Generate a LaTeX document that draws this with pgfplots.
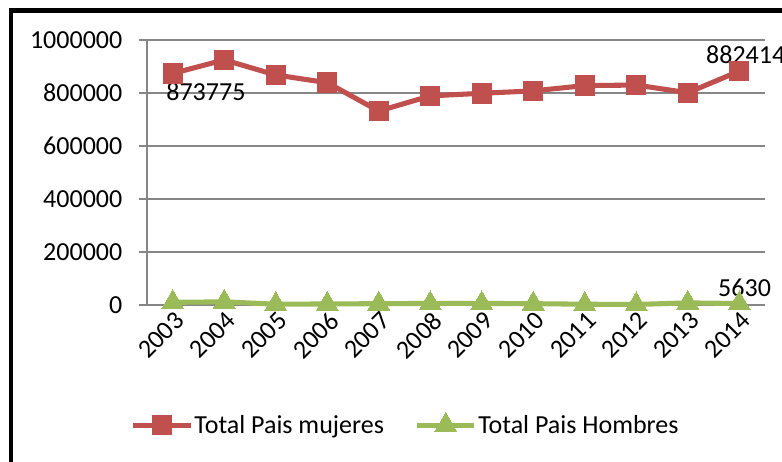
\documentclass[border=0pt]{standalone}
\usepackage{fontspec}
\setmainfont{Carlito}
\usepackage{pgfplots}
\pgfplotsset{compat=1.18}

\definecolor{exred}{HTML}{C0504D}
\definecolor{exgreen}{HTML}{9BBB59}
\definecolor{exgrid}{HTML}{868686}

\begin{document}
\begin{tikzpicture}[x=0.75pt,y=-0.75pt]
\useasboundingbox (0,0) rectangle (782,461);
\draw[line width=3.5pt] (11,10.5) rectangle (900,600);
\begin{axis}[
    at={(110.25pt,-228.75pt)}, anchor=south west,
    scale only axis,
    width=463.5pt, height=198.75pt,
    xmin=-0.5, xmax=11.5,
    ymin=0, ymax=1000000,
    ytick={0,200000,400000,600000,800000,1000000},
    xtick={0,...,11},
    xticklabels={2003,2004,2005,2006,2007,2008,2009,2010,2011,2012,2013,2014},
    minor xtick={-0.5,0.5,...,11.5},
    xtick style={draw=none},
    minor tick length=6pt,
    major tick length=6pt,
    tick align=outside,
    tick style={exgrid, line width=0.9pt},
    axis x line*=bottom, axis y line*=left,
    axis line style={exgrid, line width=0.9pt, -},
    ymajorgrids, grid style={exgrid, line width=0.9pt},
    scaled y ticks=false,
    yticklabel style={/pgf/number format/fixed, /pgf/number format/1000 sep={}, xshift=-9pt},
    /pgf/number format/assume math mode=true,
    ticklabel style={font=\fontsize{19.5}{21}\selectfont},
    xticklabel style={rotate=45, anchor=north east, inner sep=1pt, xshift=3pt, yshift=2pt},
    legend columns=2,
    legend style={at={(0.418,-0.453)}, anchor=center, draw=none, fill=none,
        font=\fontsize{19.5}{21}\selectfont,
        /tikz/every odd column/.append style={column sep=0pt},
        /tikz/every even column/.append style={column sep=22pt},
        nodes={inner xsep=1pt}},
    legend image code/.code={\draw[mark repeat=2,mark phase=2] plot coordinates {(0pt,0pt)(21.5pt,0pt)(43pt,0pt)};},
    clip=false,
]
\addplot[exred, line width=3.8pt, mark=square*, mark size=7.3pt, mark options={solid, line width=0pt}]
    coordinates {(0,873775) (1,925000) (2,868000) (3,839000) (4,732000) (5,789000)
                 (6,799000) (7,808000) (8,828000) (9,830000) (10,801000) (11,882414)};
\addlegendentry{Total Pais mujeres}
\addplot[exgreen, line width=3.8pt, mark=triangle*, mark size=9.5pt, mark options={solid, line width=0pt}]
    coordinates {(0,10000) (1,12000) (2,3000) (3,4000) (4,5000) (5,6000)
                 (6,6000) (7,5000) (8,3000) (9,2000) (10,8000) (11,5630)};
\addlegendentry{Total Pais Hombres}
\node[anchor=north west, font=\fontsize{19.5}{21}\selectfont, inner sep=0pt] at (axis cs:0,873775) [xshift=-5pt, yshift=-7pt] {873775};
\node[anchor=west, font=\fontsize{19.5}{21}\selectfont, inner sep=0pt] at (axis cs:11,882414) [xshift=-25pt, yshift=12.5pt] {882414};
\node[anchor=south, font=\fontsize{19.5}{21}\selectfont, inner sep=0pt] at (axis cs:11,5630) [xshift=4pt, yshift=5pt] {5630};
\end{axis}
\end{tikzpicture}
\end{document}
